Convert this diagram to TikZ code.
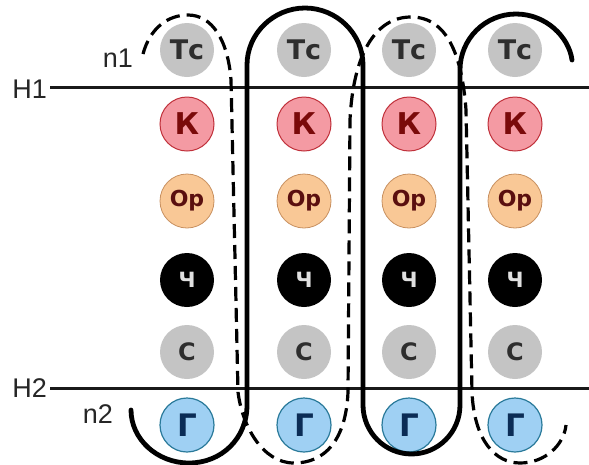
\documentclass[tikz,border=0pt]{standalone}
\usepackage{fontspec}
\setmainfont{Liberation Sans}
\newfontfamily\circfont{DejaVu Sans}
\definecolor{tcgray}{HTML}{C4C4C4}
\definecolor{tctext}{HTML}{2E2E2E}
\definecolor{kfill}{HTML}{F49AA3}
\definecolor{kedge}{HTML}{C0303A}
\definecolor{ktext}{HTML}{7A0A0A}
\definecolor{ofill}{HTML}{F9C896}
\definecolor{oedge}{HTML}{C89060}
\definecolor{otext}{HTML}{5A0F0F}
\definecolor{gfill}{HTML}{9FD0F3}
\definecolor{gedge}{HTML}{2A7A9A}
\definecolor{gtext}{HTML}{0B2C55}
\tikzset{
  bub/.style={circle, minimum size=54pt, inner sep=0pt},
  tcb/.style={bub, fill=tcgray, text=tctext, font=\circfont\bfseries\fontsize{27}{27}\selectfont},
  kb/.style={bub, fill=kfill, draw=kedge, line width=1pt, text=ktext, font=\circfont\bfseries\fontsize{30}{30}\selectfont},
  ob/.style={bub, fill=ofill, draw=oedge, line width=0.8pt, text=otext, font=\circfont\bfseries\fontsize{22}{22}\selectfont},
  chb/.style={bub, fill=black, text=white!88!black, font=\circfont\bfseries\fontsize{21}{21}\selectfont},
  sb/.style={bub, fill=tcgray, text=tctext, font=\circfont\bfseries\fontsize{24}{24}\selectfont},
  gb/.style={bub, fill=gfill, draw=gedge, line width=1.2pt, text=gtext, font=\circfont\bfseries\fontsize{31}{31}\selectfont},
  lab/.style={inner sep=0pt, text=black!85, font=\fontsize{27}{27}\selectfont},
  hlab/.style={inner sep=0pt, text=black!85, font=\fontsize{27}{27}\selectfont},
  hline/.style={line width=3pt, black!90},
  solidpath/.style={line width=4.8pt, black, line cap=round},
  dashpath/.style={line width=3.2pt, black, dash pattern=on 14pt off 7pt},
}
\begin{document}
\begin{tikzpicture}[x=1pt, y=-1pt]
  \useasboundingbox (0,0) rectangle (589,464);
  \fill[white] (0,0) rectangle (589,464);
  % circles
  \foreach \c/\x in {1/187, 2/304, 3/409, 4/515} {
    \node[tcb] (tc\c) at (\x,50) {Тс};
    \node[kb]  (k\c)  at (\x,124) {К};
    \node[ob]  (o\c)  at (\x,201) {Ор};
    \node[chb] (ch\c) at (\x,280) {Ч};
    \node[sb]  (s\c)  at (\x,352) {С};
    \node[gb]  (g\c)  at (\x,425) {Г};
  }
  % labels
  \node[hlab, anchor=east] (h1) at (47,89) {H1};
  \node[hlab, anchor=east] (h2) at (47,388) {H2};
  \node[lab] (n1) at (118,58) {n1};
  \node[lab] (n2) at (98,414) {n2};
  \coordinate (h1e) at (589,87);
  \coordinate (h2e) at (589,388);
  \draw[hline] (h1.east |- h1e) ++(3,0) -- (h1e);
  \draw[hline] (h2.east |- h2e) ++(3,0) -- (h2e);
  % solid strand
  \draw[solidpath]
    (131,410) .. controls (131,439) and (157,463) .. (189,463)
    .. controls (221,463) and (247,439) .. (247,405)
    -- (247,65) .. controls (247,33.5) and (273.5,8) .. (305,8)
    .. controls (336.5,8) and (363,33.5) .. (363,65)
    -- (363,405) .. controls (363,432) and (384.7,454) .. (411.5,454)
    .. controls (438.3,454) and (460,432) .. (460,405)
    -- (460,70) .. controls (460,39) and (485,14) .. (516,14)
    .. controls (546,14) and (569,37) .. (572,60);
  % dashed strand
  \draw[dashpath]
    (143,54) .. controls (150,28) and (168,15) .. (188,15)
    .. controls (212,15) and (228,40) .. (231,80)
    -- (238,392) .. controls (242,425) and (262,463) .. (294,463)
    .. controls (325,463) and (346,440) .. (348,392)
    -- (350,120) .. controls (353,55) and (375,17) .. (411,17)
    .. controls (447,17) and (462,55) .. (466,110)
    -- (472,392) .. controls (474,440) and (495,463) .. (520,463)
    .. controls (545,463) and (564,445) .. (566,425);
\end{tikzpicture}
\end{document}
